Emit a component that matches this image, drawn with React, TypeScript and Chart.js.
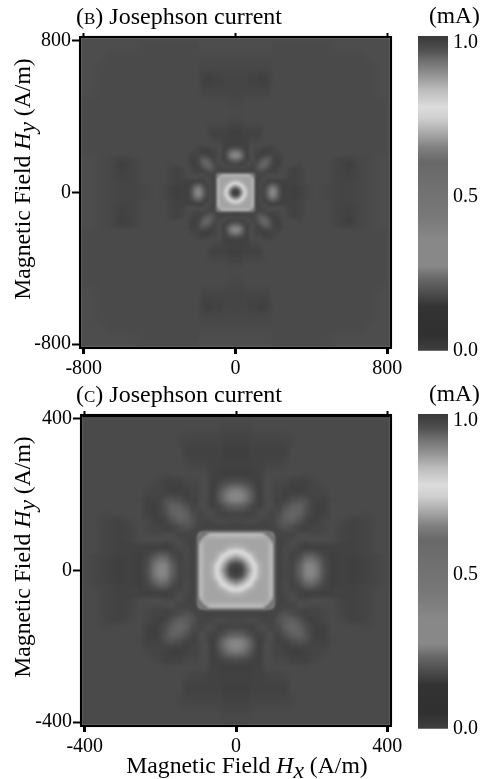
import React, { useEffect, useRef } from "react";
import { Chart, registerables } from "chart.js";

Chart.register(...registerables);

const FONT = '"Liberation Serif", "Times New Roman", serif';

// Sample positions of the field (A/m); the measured pattern is mirrored into all four quadrants.
const fieldSamples = [0, 15, 30, 40, 50, 60, 70, 80, 90, 98, 104, 115, 130, 150, 170, 185, 200, 215, 235, 255, 280, 310, 340, 380, 420, 480, 540, 600, 660, 720, 780, 840];

// Josephson current in 0.01 mA. Row i holds Hy = fieldSamples[i], Hx from fieldSamples[i] upward.
const currentRows = [
  [100, 98, 90, 84, 77.5, 71, 69, 68.5, 70.5, 72, 18, 16.5, 17.5, 17, 22, 26.5, 27, 25, 18.5, 16, 16.5, 16, 16.5, 17.5, 18, 17.5, 17, 17, 17.5, 18, 18.5, 18.5],
  [96, 87, 81, 76, 70.5, 69, 68.5, 70.5, 72, 18, 16.5, 17.5, 17, 21.5, 26, 26.5, 24.5, 18, 16, 16.5, 16, 16.5, 17.5, 18, 17.5, 17, 17, 17.5, 18, 18.5, 18.5],
  [81, 77, 71, 69, 68.5, 68.5, 70.5, 72, 18, 16.5, 18, 16.5, 19.5, 23.5, 24, 22, 17.5, 16, 16.5, 16, 16.5, 17.5, 18, 17.5, 17, 17, 17.5, 18, 18.5, 18.5],
  [73, 69.5, 68.5, 68.5, 68.5, 70.5, 72, 18, 16.5, 18, 16.5, 18, 21, 21.5, 19.5, 17, 16, 16.5, 16.5, 17, 17.5, 18, 17.5, 17, 17, 17.5, 18, 18.5, 18.5],
  [69, 68.5, 68.5, 68.5, 70.5, 72, 18, 16.5, 18, 17, 17, 18, 18.5, 17.5, 16.5, 16.5, 16.5, 16.5, 17, 18, 18, 18, 17, 17, 17.5, 18, 18.5, 18.5],
  [68.5, 68.5, 68.5, 70.5, 72, 18, 16.5, 17.5, 18, 16.5, 16, 16, 16, 16, 16.5, 16.5, 16.5, 17, 18, 18, 18, 17, 17, 17.5, 18, 18.5, 18.5],
  [68.5, 68.5, 70.5, 71, 18, 16.5, 17, 18.5, 17, 16.5, 17, 17, 17, 17, 16.5, 16.5, 17, 18, 18, 18, 17, 16.5, 17.5, 18, 18.5, 18.5],
  [69, 70, 62, 18, 16.5, 17, 18, 18, 18, 18.5, 18.5, 18.5, 18, 17, 16.5, 17, 18, 18, 18, 17, 16.5, 17.5, 18, 18.5, 18.5],
  [64, 40, 17, 17, 17, 17, 18.5, 18, 18, 18, 18, 18, 17, 16.5, 17, 18, 18, 18, 17, 16.5, 17.5, 18, 18.5, 18.5],
  [22, 17, 17, 17, 17, 18, 18, 17.5, 17.5, 18, 18, 17, 16.5, 17, 18, 18, 18, 17, 16.5, 17.5, 18, 18.5, 18.5],
  [17, 17, 18, 18, 17, 16.5, 17, 17, 17.5, 18, 17, 16.5, 17, 18, 18, 18, 17, 16.5, 17.5, 18, 18.5, 18.5],
  [18.5, 19.5, 18, 17, 16.5, 17, 17, 17.5, 18, 17, 16.5, 17, 18, 18, 18, 17, 16.5, 17.5, 18, 18.5, 18.5],
  [21, 21.5, 19, 17, 16, 16.5, 17.5, 18, 17.5, 16.5, 17, 18, 18, 18, 17, 16, 17.5, 18, 18.5, 18.5],
  [23, 21.5, 18.5, 17, 16, 16.5, 18, 18, 18, 17.5, 18, 18, 18, 17, 16, 17.5, 18, 18.5, 18.5],
  [22, 19.5, 17, 16, 16.5, 18, 18, 18, 18, 18, 18, 18, 17, 16.5, 17.5, 18, 18.5, 18.5],
  [19, 17, 16.5, 16.5, 17.5, 18, 18, 18, 18, 18, 18, 17.5, 17, 17.5, 18, 18.5, 18.5],
  [17, 17, 17, 18, 18, 18, 18, 18, 18, 18, 18, 18, 18, 18, 18, 18.5],
  [17, 17.5, 18, 18, 18, 18, 18, 18, 18, 18, 18, 18, 18, 18, 18.5],
  [18, 18, 18, 18, 18, 18, 18, 18, 18, 18, 18, 18, 18, 18.5],
  [18, 18, 18, 18, 18, 18, 18, 18, 18, 18, 18, 18, 18.5],
  [18, 18, 18, 18, 18, 18, 18, 18, 18, 18, 18, 18.5],
  [18, 18, 18, 18, 18, 18, 18, 18, 18, 18, 18.5],
  [18, 18, 18, 18, 18, 18, 18, 18, 18, 18.5],
  [18, 18, 18, 18, 18, 18, 18, 18, 18.5],
  [18, 18, 18, 18, 18, 18, 18, 18.5],
  [18, 18, 18, 18, 18, 18, 18.5],
  [18, 18, 18, 18, 18.5, 18.5],
  [18, 18, 18, 18.5, 18.5],
  [18, 18, 18.5, 18.5],
  [18.5, 18.5, 18.5],
  [18.5, 18.5],
  [18.5],
];

// Colour bar: current (mA) and the grey level read at that height.
const barLevels = [0, 0.05, 0.14, 0.176, 0.23, 0.27, 0.35, 0.43, 0.52, 0.6, 0.645, 0.69, 0.74, 0.775, 0.83, 0.88, 0.92, 0.955, 1];
const barGrays = [0x40, 0x30, 0x33, 0x48, 0x68, 0x88, 0x88, 0x78, 0x70, 0x68, 0x80, 0xa8, 0xd0, 0xdc, 0xbb, 0x90, 0x70, 0x50, 0x38];
const barTicks = [0, 0.49, 0.98];
const barLabels = ["0.0", "0.5", "1.0"];

const ticksB = [-800, 0, 800];
const ticksC = [-400, 0, 400];

function grayAt(v: number): number {
  if (v <= barLevels[0]) return barGrays[0];
  for (let i = 1; i < barLevels.length; i++) {
    if (v <= barLevels[i]) {
      const t = (v - barLevels[i - 1]) / (barLevels[i] - barLevels[i - 1]);
      return barGrays[i - 1] + t * (barGrays[i] - barGrays[i - 1]);
    }
  }
  return barGrays[barGrays.length - 1];
}

function currentAt(ix: number, iy: number): number {
  const a = Math.min(ix, iy);
  const b = Math.max(ix, iy);
  const row = currentRows[a];
  const v = row ? row[b - a] : undefined;
  return (v === undefined ? 18 : v) / 100;
}

function fieldPoints() {
  const pts: { x: number; y: number; v: number }[] = [];
  fieldSamples.forEach((fy, iy) => {
    fieldSamples.forEach((fx, ix) => {
      const v = currentAt(ix, iy);
      for (const sx of fx === 0 ? [1] : [-1, 1]) {
        for (const sy of fy === 0 ? [1] : [-1, 1]) {
          pts.push({ x: sx * fx, y: sy * fy, v });
        }
      }
    });
  });
  return pts;
}

function cellOf(f: number): [number, number] {
  const a = Math.min(Math.abs(f), fieldSamples[fieldSamples.length - 1] - 0.001);
  let i = 0;
  while (fieldSamples[i + 1] <= a) i++;
  return [i, (a - fieldSamples[i]) / (fieldSamples[i + 1] - fieldSamples[i])];
}

const fieldImagePlugin = {
  id: "fieldImage",
  beforeDraw(chart: any) {
    const { left, top, right, bottom } = chart.chartArea;
    const w = Math.round(right - left);
    const h = Math.round(bottom - top);
    const off = document.createElement("canvas");
    off.width = w;
    off.height = h;
    const octx = off.getContext("2d")!;
    const img = octx.createImageData(w, h);
    const xs: [number, number][] = [];
    const ys: [number, number][] = [];
    for (let p = 0; p < w; p++) xs.push(cellOf(chart.scales.x.getValueForPixel(left + p + 0.5)));
    for (let p = 0; p < h; p++) ys.push(cellOf(chart.scales.y.getValueForPixel(top + p + 0.5)));
    for (let py = 0; py < h; py++) {
      const [iy, ty] = ys[py];
      for (let px = 0; px < w; px++) {
        const [ix, tx] = xs[px];
        const v =
          (1 - ty) * ((1 - tx) * currentAt(ix, iy) + tx * currentAt(ix + 1, iy)) +
          ty * ((1 - tx) * currentAt(ix, iy + 1) + tx * currentAt(ix + 1, iy + 1));
        const g = grayAt(v);
        const k = (py * w + px) * 4;
        img.data[k] = img.data[k + 1] = img.data[k + 2] = g;
        img.data[k + 3] = 255;
      }
    }
    octx.putImageData(img, 0, 0);
    const ctx = chart.ctx;
    ctx.save();
    ctx.filter = "blur(0.8px)";
    ctx.drawImage(off, left, top);
    ctx.restore();
  },
};

function HeatPanel({ top, left, ticks, topWidth }: { top: number; left: number; ticks: number[]; topWidth: number }) {
  const ref = useRef<HTMLCanvasElement>(null);
  useEffect(() => {
    const span = ticks[2] * 1.025;
    const setTicks = (s: any) => {
      s.ticks = ticks.map((value) => ({ value }));
    };
    const line = { color: "#000", width: 2 };
    const chart = new Chart(ref.current!, {
      type: "scatter",
      data: { datasets: [{ data: fieldPoints(), pointRadius: 0, parsing: false } as any] },
      options: {
        animation: false,
        responsive: false,
        events: [],
        layout: { padding: { top: 37, right: 24, left: 0, bottom: 0 } },
        plugins: { legend: { display: false }, tooltip: { enabled: false } },
        scales: {
          x: {
            type: "linear",
            position: "bottom",
            min: -span,
            max: span,
            afterBuildTicks: setTicks,
            afterFit: (s: any) => { s.height = 28; },
            grid: { drawOnChartArea: false, tickLength: 6, color: "#000", tickWidth: 3 },
            border: line,
            ticks: { color: "#000", maxRotation: 0, padding: 3, font: { family: FONT, size: 20 }, callback: (v: any) => String(v) },
          },
          x2: {
            type: "linear",
            position: "top",
            min: -span,
            max: span,
            afterBuildTicks: setTicks,
            afterFit: (s: any) => { s.height = 0; },
            grid: { drawOnChartArea: false, tickLength: 4, color: "#000", tickWidth: 2 },
            border: { color: "#000", width: topWidth },
            ticks: { display: false },
          },
          y: {
            type: "linear",
            position: "left",
            min: -span,
            max: span,
            afterBuildTicks: setTicks,
            afterFit: (s: any) => { s.width = 80 + left; },
            grid: { drawOnChartArea: false, tickLength: 8, color: "#000", tickWidth: 2 },
            border: line,
            ticks: { color: "#000", padding: 1, font: { family: FONT, size: 20 }, callback: (v: any) => String(v) },
          },
          y2: {
            type: "linear",
            position: "right",
            min: -span,
            max: span,
            afterBuildTicks: () => {},
            afterFit: (s: any) => { s.width = 0; },
            grid: { drawOnChartArea: false, drawTicks: false },
            border: line,
            ticks: { display: false },
          },
        },
      },
      plugins: [fieldImagePlugin],
    } as any);
    return () => chart.destroy();
  }, []);
  return <canvas ref={ref} width={415} height={376} style={{ position: "absolute", left: 0, top, width: 415, height: 376 }} />;
}

function ColorBar({ top }: { top: number }) {
  const ref = useRef<HTMLCanvasElement>(null);
  useEffect(() => {
    const chart = new Chart(ref.current!, {
      type: "bar",
      data: {
        labels: ["current"],
        datasets: [
          {
            data: [[0, 1]],
            barPercentage: 1,
            categoryPercentage: 1,
            backgroundColor: (c: any) => {
              const area = c.chart.chartArea;
              if (!area || !Number.isFinite(area.top) || !Number.isFinite(area.bottom)) return "#666";
              const g = c.chart.ctx.createLinearGradient(0, area.bottom, 0, area.top);
              barLevels.forEach((l, i) => {
                const s = barGrays[i];
                g.addColorStop(l, `rgb(${s},${s},${s})`);
              });
              return g;
            },
          } as any,
        ],
      },
      options: {
        animation: false,
        responsive: false,
        events: [],
        layout: { padding: { top: 36, left: 8, right: 0, bottom: 25 } },
        plugins: { legend: { display: false }, tooltip: { enabled: false } },
        scales: {
          x: { display: false, grid: { display: false } },
          y: {
            position: "right",
            min: 0,
            max: 1,
            afterBuildTicks: (s: any) => { s.ticks = barTicks.map((value) => ({ value })); },
            afterFit: (s: any) => { s.width = 37; },
            grid: { drawOnChartArea: false, drawTicks: false },
            border: { display: false },
            ticks: {
              color: "#000",
              padding: 5,
              font: { family: FONT, size: 20 },
              callback: (v: any) => barLabels[barTicks.indexOf(v)],
            },
          },
        },
      },
    } as any);
    return () => chart.destroy();
  }, []);
  return <canvas ref={ref} width={75} height={376} style={{ position: "absolute", left: 410, top, width: 75, height: 376 }} />;
}

const textBase: React.CSSProperties = {
  position: "absolute",
  fontFamily: FONT,
  fontSize: 23.7,
  lineHeight: "24px",
  color: "#000",
  whiteSpace: "nowrap",
};

function Axis({ sub }: { sub: string }) {
  return (
    <>
      Magnetic Field <i>H<sub style={{ fontSize: 23.7, lineHeight: 0, verticalAlign: -5 }}>{sub}</sub></i> (A/m)
    </>
  );
}

function Title({ top, letter }: { top: number; letter: string }) {
  return (
    <div style={{ ...textBase, fontSize: 24, left: 76, top }}>
      (<span style={{ fontSize: 17 }}>{letter}</span>) Josephson current
    </div>
  );
}

export default function App() {
  return (
    <div style={{ position: "absolute", left: 0, top: 0, width: 485, height: 779, overflow: "hidden", background: "#fff" }}>
      <HeatPanel top={0} left={0} ticks={ticksB} topWidth={2} />
      <ColorBar top={0} />
      <HeatPanel top={378} left={1} ticks={ticksC} topWidth={3} />
      <ColorBar top={378} />
      <Title top={4} letter="B" />
      <Title top={382} letter="C" />
      <div style={{ ...textBase, fontSize: 23.5, left: 429, top: 3 }}>(mA)</div>
      <div style={{ ...textBase, fontSize: 23.5, left: 429, top: 381 }}>(mA)</div>
      <div style={{ ...textBase, left: 22, top: 179, transform: "translate(-50%,-50%) rotate(-90deg)" }}><Axis sub="y" /></div>
      <div style={{ ...textBase, left: 22, top: 557, transform: "translate(-50%,-50%) rotate(-90deg)" }}><Axis sub="y" /></div>
      <div style={{ ...textBase, left: 247, top: 765, transform: "translate(-50%,-50%)" }}><Axis sub="x" /></div>
    </div>
  );
}
